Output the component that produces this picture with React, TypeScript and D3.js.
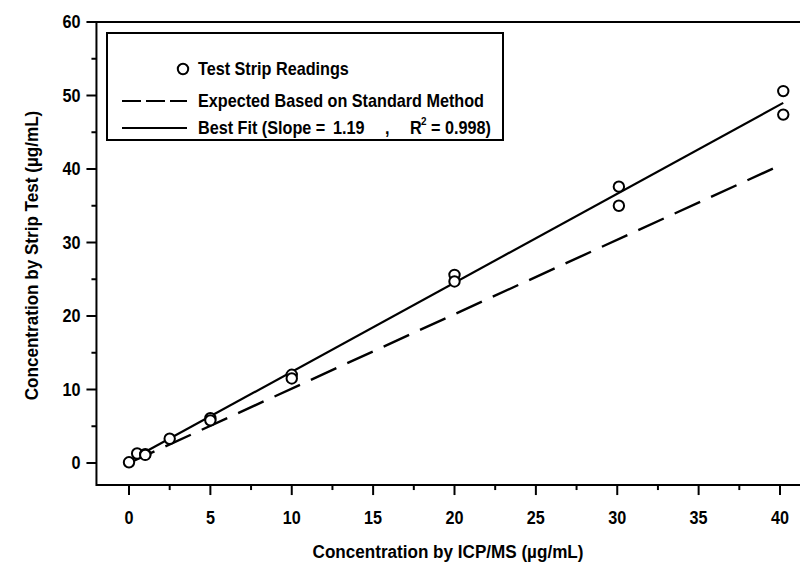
import React from 'react';
import * as d3 from 'd3';

// readings
const readingX = [0, 0.5, 1, 1, 2.5, 5, 5, 10, 10, 20, 20, 30.1, 30.1, 40.2, 40.2];
const readingY = [0.1, 1.3, 1.2, 1.1, 3.3, 6.1, 5.8, 12.0, 11.5, 25.6, 24.7, 37.6, 35.0, 50.6, 47.4];

const expectedX = [0, 40.2];
const expectedY = [0, 40.7];

const fitX = [0, 40.2];
const fitY = [0.3, 49.0];

const xTicks = [0, 5, 10, 15, 20, 25, 30, 35, 40];
const xMinor = [2.5, 7.5, 12.5, 17.5, 22.5, 27.5, 32.5, 37.5];
const yTicks = [0, 10, 20, 30, 40, 50, 60];
const yMinor = [5, 15, 25, 35, 45, 55];

const font = '"Liberation Sans", Arial, sans-serif';
const squeeze = 0.9; // scan font is a bit narrow

// condensed text label
const T = ({ x, y, size, anchor = 'start', rotate = 0, children }: any) => (
  <g transform={`translate(${x},${y}) rotate(${rotate}) scale(${squeeze},1)`}>
    <text textAnchor={anchor} fontSize={size} dy="0.36em" style={{ whiteSpace: 'pre' }}>{children}</text>
  </g>
);

export default function App() {
  const width = 802, height = 563;

  const x = d3.scaleLinear().domain([0, 40]).range([129, 780]);
  const y = d3.scaleLinear().domain([0, 60]).range([463, 22]);

  const left = x(-2);
  const right = 800;
  const bottom = y(-3);
  const top = y(60);

  const line = d3.line<[number, number]>()
    .x((d) => x(d[0]))
    .y((d) => y(d[1]));

  const expected = expectedX.map((v, i) => [v, expectedY[i]] as [number, number]);
  const fit = fitX.map((v, i) => [v, fitY[i]] as [number, number]);

  return (
    <svg width={width} height={height}
      style={{ position: 'absolute', left: 0, top: 0, background: '#fff' }}
      fontFamily={font} fontWeight="bold">
      {/* frame */}
      <line x1={left} x2={right} y1={top} y2={top} stroke="#000" strokeWidth={2} />
      <line x1={left} x2={right} y1={bottom} y2={bottom} stroke="#000" strokeWidth={2} />
      <line x1={left} x2={left} y1={top - 1} y2={bottom + 1} stroke="#000" strokeWidth={2} />

      {/* x ticks */}
      {xTicks.map((t) => (
        <g key={`xt-${t}`}>
          <line x1={x(t)} x2={x(t)} y1={bottom} y2={bottom + 10} stroke="#000" strokeWidth={2} />
          <T x={x(t)} y={bottom + 32} size={18} anchor="middle">{t}</T>
        </g>
      ))}
      {xMinor.map((t) => (
        <line key={`xm-${t}`} x1={x(t)} x2={x(t)} y1={bottom} y2={bottom + 5} stroke="#000" strokeWidth={2} />
      ))}

      {/* y ticks */}
      {yTicks.map((t) => (
        <g key={`yt-${t}`}>
          <line x1={left - 10} x2={left} y1={y(t)} y2={y(t)} stroke="#000" strokeWidth={2} />
          <T x={left - 16} y={y(t)} size={18} anchor="end">{t}</T>
        </g>
      ))}
      {yMinor.map((t) => (
        <line key={`ym-${t}`} x1={left - 5} x2={left} y1={y(t)} y2={y(t)} stroke="#000" strokeWidth={2} />
      ))}

      {/* axis titles */}
      <T x={448} y={551} size={19} anchor="middle">Concentration by ICP/MS (µg/mL)</T>
      <T x={31} y={(top + bottom) / 2 + 2} size={19} anchor="middle" rotate={-90}>
        Concentration by Strip Test (µg/mL)
      </T>

      {/* lines */}
      <path d={line(expected) || ''} fill="none" stroke="#000" strokeWidth={2.4} strokeDasharray="28 12" />
      <path d={line(fit) || ''} fill="none" stroke="#000" strokeWidth={2.2} />

      {/* readings */}
      {readingX.map((v, i) => (
        <circle key={`pt-${i}`} cx={x(v)} cy={y(readingY[i])} r={5.2}
          fill="#fff" stroke="#000" strokeWidth={2} />
      ))}

      {/* legend */}
      <rect x={107} y={33} width={396} height={107} fill="#fff" stroke="#000" strokeWidth={2} />
      <circle cx={183} cy={69} r={5.2} fill="#fff" stroke="#000" strokeWidth={2} />
      <T x={198} y={69} size={18}>Test Strip Readings</T>
      <line x1={122} x2={187} y1={101} y2={101} stroke="#000" strokeWidth={2} strokeDasharray="19 5" />
      <T x={198} y={101} size={18}>Expected Based on Standard Method</T>
      <line x1={122} x2={187} y1={128} y2={128} stroke="#000" strokeWidth={2} />
      <T x={198} y={128} size={18}>Best Fit (Slope =</T>
      <T x={333} y={128} size={18}>1.19</T>
      <T x={385} y={128} size={18}>,</T>
      <T x={410} y={128} size={18}>R</T>
      <T x={421} y={121} size={11}>2</T>
      <T x={431} y={128} size={18}>= 0.998)</T>
    </svg>
  );
}
